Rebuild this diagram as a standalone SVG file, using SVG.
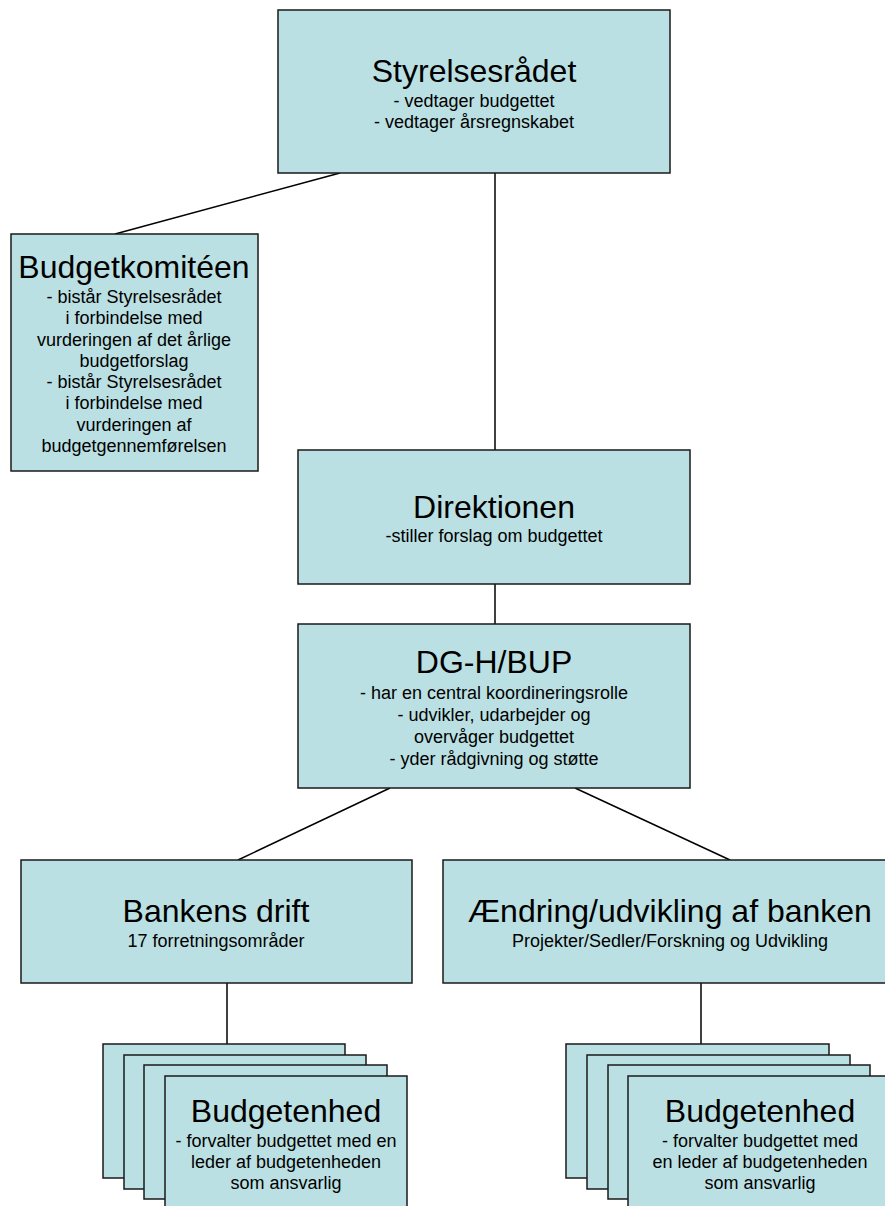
<svg xmlns="http://www.w3.org/2000/svg" width="885" height="1206" viewBox="0 0 885 1206">
<style>
.box{fill:#BBE0E3;stroke:#1a1a1a;stroke-width:1.5}
.t{font-family:"Liberation Sans",Arial,sans-serif;font-size:32px;fill:#000;text-anchor:middle}
.s{font-family:"Liberation Sans",Arial,sans-serif;font-size:18px;fill:#000;text-anchor:middle}
.c{stroke:#000;stroke-width:1.5;fill:none}
</style>
<rect width="885" height="1206" fill="#fff"/>
<g id="connectors">
<line class="c" x1="340" y1="173" x2="115" y2="234"/>
<line class="c" x1="495" y1="173" x2="495" y2="450"/>
<line class="c" x1="495" y1="584" x2="495" y2="624"/>
<line class="c" x1="390" y1="788" x2="238" y2="860"/>
<line class="c" x1="575" y1="788" x2="730" y2="860"/>
<line class="c" x1="227" y1="983" x2="227" y2="1044"/>
<line class="c" x1="701" y1="983" x2="701" y2="1044"/>
</g>
<g id="styrelsesraadet">
<rect class="box" x="278" y="10" width="392" height="163"/>
<text class="t" x="474" y="82">Styrelsesrådet</text>
<text class="s" x="474" y="107">- vedtager budgettet</text>
<text class="s" x="474" y="128">- vedtager årsregnskabet</text>
</g>
<g id="budgetkomiteen">
<rect class="box" x="11" y="234" width="247" height="237"/>
<text class="t" x="134" y="278">Budgetkomitéen</text>
<text class="s" x="134" y="303">- bistår Styrelsesrådet</text>
<text class="s" x="134" y="324">i forbindelse med</text>
<text class="s" x="134" y="346">vurderingen af det årlige</text>
<text class="s" x="134" y="367">budgetforslag</text>
<text class="s" x="134" y="388">- bistår Styrelsesrådet</text>
<text class="s" x="134" y="409">i forbindelse med</text>
<text class="s" x="134" y="431">vurderingen af</text>
<text class="s" x="134" y="452">budgetgennemførelsen</text>
</g>
<g id="direktionen">
<rect class="box" x="298" y="450" width="392" height="134"/>
<text class="t" x="494" y="518">Direktionen</text>
<text class="s" x="494" y="542">-stiller forslag om budgettet</text>
</g>
<g id="dgh-bup">
<rect class="box" x="298" y="624" width="392" height="164"/>
<text class="t" x="494" y="673">DG-H/BUP</text>
<text class="s" x="494" y="699">- har en central koordineringsrolle</text>
<text class="s" x="494" y="721">- udvikler, udarbejder og</text>
<text class="s" x="494" y="743">overvåger budgettet</text>
<text class="s" x="494" y="765">- yder rådgivning og støtte</text>
</g>
<g id="bankens-drift">
<rect class="box" x="21" y="860" width="391" height="123"/>
<text class="t" x="216" y="922">Bankens drift</text>
<text class="s" x="216" y="947">17 forretningsområder</text>
</g>
<g id="aendring">
<rect class="box" x="443" y="860" width="454" height="123"/>
<text class="t" x="670" y="922">Ændring/udvikling af banken</text>
<text class="s" x="670" y="947">Projekter/Sedler/Forskning og Udvikling</text>
</g>
<g id="budgetenhed-left">
<rect class="box" x="103" y="1044" width="242" height="134"/>
<rect class="box" x="124" y="1055" width="242" height="134"/>
<rect class="box" x="144" y="1065" width="243" height="134"/>
<rect class="box" x="165" y="1076" width="242" height="140"/>
<text class="t" x="286" y="1122">Budgetenhed</text>
<text class="s" x="286" y="1147">- forvalter budgettet med en</text>
<text class="s" x="286" y="1168">leder af budgetenheden</text>
<text class="s" x="286" y="1189">som ansvarlig</text>
</g>
<g id="budgetenhed-right">
<rect class="box" x="566" y="1044" width="263" height="134"/>
<rect class="box" x="587" y="1055" width="263" height="134"/>
<rect class="box" x="608" y="1065" width="262" height="134"/>
<rect class="box" x="628" y="1076" width="263" height="140"/>
<text class="t" x="760" y="1122">Budgetenhed</text>
<text class="s" x="760" y="1147">- forvalter budgettet med</text>
<text class="s" x="760" y="1168">en leder af budgetenheden</text>
<text class="s" x="760" y="1189">som ansvarlig</text>
</g>
</svg>
